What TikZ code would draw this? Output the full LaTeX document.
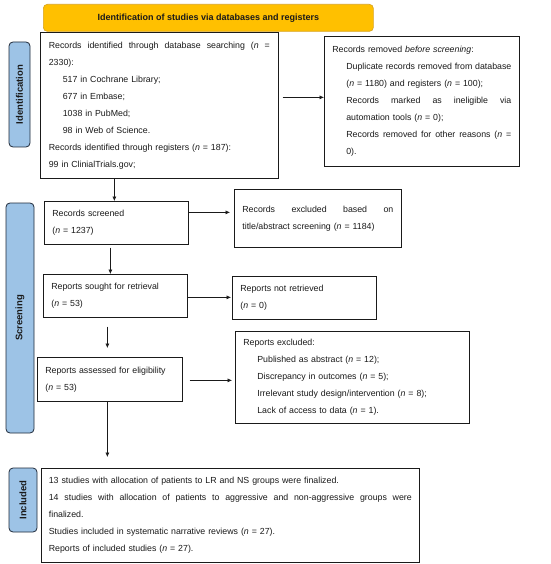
\documentclass[tikz,border=0pt]{standalone}
\usepackage{fontspec}
\setmainfont{Liberation Sans}
\usetikzlibrary{arrows.meta,calc}
\definecolor{titlefill}{HTML}{FFC000}
\definecolor{titleline}{HTML}{D9A520}
\definecolor{labfill}{HTML}{9DC3E6}
\definecolor{labline}{HTML}{1F2A3A}
\definecolor{inkc}{HTML}{1A1A1A}
\newcommand\jl[2]{\leavevmode\hbox to #1pt{\spaceskip=0.278em plus 1fil\relax\xspaceskip=\spaceskip #2}}
\begin{document}
\begin{tikzpicture}[x=1pt,y=-1pt,
  box/.style={draw=inkc, line width=0.7pt, anchor=north west, inner xsep=8pt, inner ysep=0pt,
    align=left, font=\fontsize{8.8}{17}\selectfont, text=inkc},
  sidelab/.style={draw=labline, fill=labfill, line width=0.8pt, rounded corners=4pt, rotate=90,
    inner sep=0pt, font=\bfseries\fontsize{9.5}{11}\selectfont, text=inkc},
  titlebox/.style={draw=titleline, fill=titlefill, line width=0.7pt, rounded corners=4pt,
    anchor=north west, inner sep=0pt, font=\bfseries\fontsize{9}{11}\selectfont, text=inkc},
  arr/.style={draw=inkc, line width=0.6pt, -{Latex[length=4.5pt,width=4pt]}}]
\fill[white] (0,0) rectangle (550,564);
\useasboundingbox (0,0) rectangle (550,564);

\node[titlebox, minimum width=330pt, minimum height=27pt] (title) at (43,4)
  {Identification of studies via databases and registers};

\node[sidelab, minimum width=105pt, minimum height=21pt] (idlab) at (19.5,94.5) {Identification};
\node[sidelab, minimum width=230pt, minimum height=28pt] (scrlab) at (20,318) {Screening};
\node[sidelab, minimum width=64pt, minimum height=28pt] (inclab) at (23,500) {Included};

\node[box, inner xsep=8.5pt, text width=221pt, minimum height=146pt] (ident) at (40,32)
  {\jl{221}{Records identified through database searching (\textit{n} =}\\
   2330):\\
   \hspace*{14pt}517 in Cochrane Library;\\
   \hspace*{14pt}677 in Embase;\\
   \hspace*{14pt}1038 in PubMed;\\
   \hspace*{14pt}98 in Web of Science.\\
   Records identified through registers (\textit{n} = 187):\\
   99 in ClinialTrials.gov;};

\node[box, text width=179pt, minimum height=130pt] (removed) at (324,36)
  {Records removed \textit{before screening}:\\
   \hspace*{14pt}\jl{165}{Duplicate records removed from database}\\
   \hspace*{14pt}(\textit{n} = 1180) and registers (\textit{n} = 100);\\
   \hspace*{14pt}\jl{165}{Records marked as ineligible via}\\
   \hspace*{14pt}automation tools (\textit{n} = 0);\\
   \hspace*{14pt}\jl{165}{Records removed for other reasons (\textit{n} =}\\
   \hspace*{14pt}0).};

\node[box, text width=128pt, minimum height=43pt] (screened) at (44,201)
  {Records screened\\(\textit{n} = 1237)};

\node[box, text width=151pt, minimum height=58pt] (excluded) at (234,189)
  {\jl{151}{Records excluded based on}\\title/abstract screening (\textit{n} = 1184)};

\node[box, text width=128pt, minimum height=43pt] (sought) at (43,274)
  {Reports sought for retrieval\\(\textit{n} = 53)};

\node[box, text width=128pt, minimum height=43pt] (notret) at (232,276)
  {Reports not retrieved\\(\textit{n} = 0)};

\node[box, text width=129pt, minimum height=44pt] (assessed) at (37,357)
  {Reports assessed for eligibility\\(\textit{n} = 53)};

\node[box, text width=218pt, minimum height=92pt] (repexcl) at (235,331)
  {Reports excluded:\\
   \hspace*{14pt}Published as abstract (\textit{n} = 12);\\
   \hspace*{14pt}Discrepancy in outcomes (\textit{n} = 5);\\
   \hspace*{14pt}Irrelevant study design/intervention (\textit{n} = 8);\\
   \hspace*{14pt}Lack of access to data (\textit{n} = 1).};

\node[box, inner xsep=7.5pt, text width=363pt, minimum height=94pt] (included) at (41,468)
  {13 studies with allocation of patients to LR and NS groups were finalized.\\
   \jl{363}{14 studies with allocation of patients to aggressive and non-aggressive groups were}\\
   finalized.\\
   Studies included in systematic narrative reviews (\textit{n} = 27).\\
   Reports of included studies (\textit{n} = 27).};

\draw[arr] ($(ident.east |- removed.west)+(4,-4)$) -- ($(removed.west)+(0,-4)$);
\draw[arr] ($(screened.north |- ident.south)+(-2,0)$) -- ($(screened.north)+(-2,0)$);
\draw[arr] ($(screened.east)+(0,-10.5)$) -- ($(excluded.west |- screened.east)+(-4,-10.5)$);
\draw[arr] ($(sought.north |- screened.south)+(-5,3)$) -- ($(sought.north)+(-5,0)$);
\draw[arr] ($(sought.east)+(0,1.5)$) -- ($(notret.west |- sought.east)+(-1,1.5)$);
\draw[arr] ($(sought.south)+(-8,9)$) -- ($(sought.south |- assessed.north)+(-8,-9)$);
\draw[arr] ($(assessed.east)+(7,1)$) -- ($(repexcl.west |- assessed.east)+(-3,1)$);
\draw[arr] ($(assessed.south)+(-2.5,0)$) -- ($(assessed.south |- included.north)+(-2.5,-11)$);
\end{tikzpicture}
\end{document}
